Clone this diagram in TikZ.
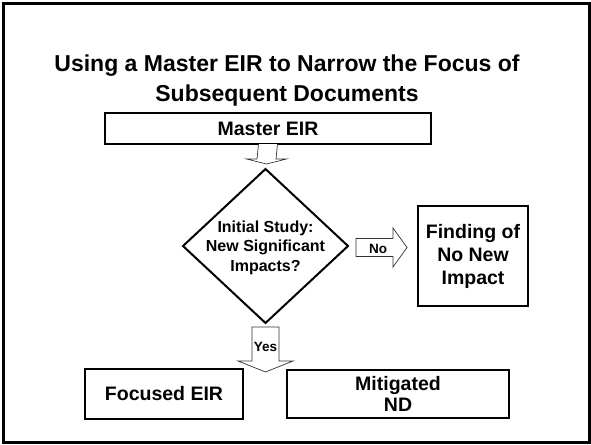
\documentclass[tikz,border=0pt]{standalone}
\usepackage{fontspec}
\setmainfont{Liberation Sans}
\usetikzlibrary{shapes.geometric,calc}

\begin{document}
\begin{tikzpicture}[x=1pt,y=-1pt,
  every node/.style={inner sep=0pt,outer sep=0pt,align=center},
  boxfont/.style={font=\fontsize{19.5}{23}\selectfont\bfseries},
  box/.style={draw,line width=2pt,boxfont},
  decision/.style={draw,line width=2pt,shape=diamond},
  decisiontext/.style={font=\fontsize{16}{19.4}\selectfont\bfseries},
  tag/.style={font=\fontsize{13.5}{15}\selectfont\bfseries},
  blockarrow/.style={draw=black!80,line width=0.7pt,fill=white,line join=miter},
]
\useasboundingbox (0,0) rectangle (591,444);
\fill[white] (0,0) rectangle (591,444);
\draw[line width=2.6pt] (3.5,3.3) rectangle (589.5,442.5);

% heading
\node[font=\fontsize{23}{29.4}\selectfont\bfseries] (title) at (287,80.6)
  {Using a Master EIR to Narrow the Focus of\\Subsequent Documents};

% flow elements
\node[box,minimum width=326pt,minimum height=31pt] (master) at (268,128.5) {Master EIR};
\node[decision,minimum width=165pt,minimum height=154pt] (study) at (265.5,246) {};
\node[decisiontext] (studytext) at ($(study.center)+(0,1.5)$)
  {Initial Study:\\New Significant\\Impacts?};
\node[box,minimum width=110pt,minimum height=100pt] (fonni) at (473,256)
  {Finding of\\No New\\Impact};
\node[box,minimum width=158pt,minimum height=50pt] (feir) at (164,394) {Focused EIR};
\node[box,font=\fontsize{19.5}{21}\selectfont\bfseries,minimum width=222pt,minimum height=48pt]
  (mnd) at (398,394) {Mitigated\\ND};

% block arrow: Master EIR -> Initial Study
\coordinate (a1s) at (master.south);
\coordinate (a1t) at ($(master.south)+(-1.5,20)$);
\draw[blockarrow] ($(a1s)+(-9.5,0)$) -- ($(a1t)+(-9.5,-5)$) -- ($(a1t)+(-20,-5)$)
  -- (a1t) -- ($(a1t)+(20,-5)$) -- ($(a1t)+(9.5,-5)$) -- ($(a1s)+(9.5,0)$);

% block arrow: Initial Study -> Finding of No New Impact ("No")
\coordinate (a2s) at ($(study.east)+(8,1.5)$);
\coordinate (a2t) at ($(fonni.west)+(-11,-8.5)$);
\draw[blockarrow] ($(a2s)+(0,-9)$) -- ($(a2t)+(-14,-9)$) -- ($(a2t)+(-14,-19.5)$)
  -- (a2t) -- ($(a2t)+(-14,19.5)$) -- ($(a2t)+(-14,9)$) -- ($(a2s)+(0,9)$) -- cycle;
\node[tag] (no) at ($(a2s)+(22,1)$) {No};

% block arrow: Initial Study -> focused documents ("Yes")
\coordinate (a3s) at ($(study.south)+(0,4)$);
\coordinate (a3t) at ($(study.south)+(0,49)$);
\draw[blockarrow] ($(a3s)+(-13.5,0)$) -- ($(a3t)+(-13.5,-11)$) -- ($(a3t)+(-27.5,-11)$)
  -- (a3t) -- ($(a3t)+(27.5,-11)$) -- ($(a3t)+(13.5,-11)$) -- ($(a3s)+(13.5,0)$) -- cycle;
\node[tag] (yes) at ($(a3s)+(0,20)$) {Yes};
\end{tikzpicture}
\end{document}
